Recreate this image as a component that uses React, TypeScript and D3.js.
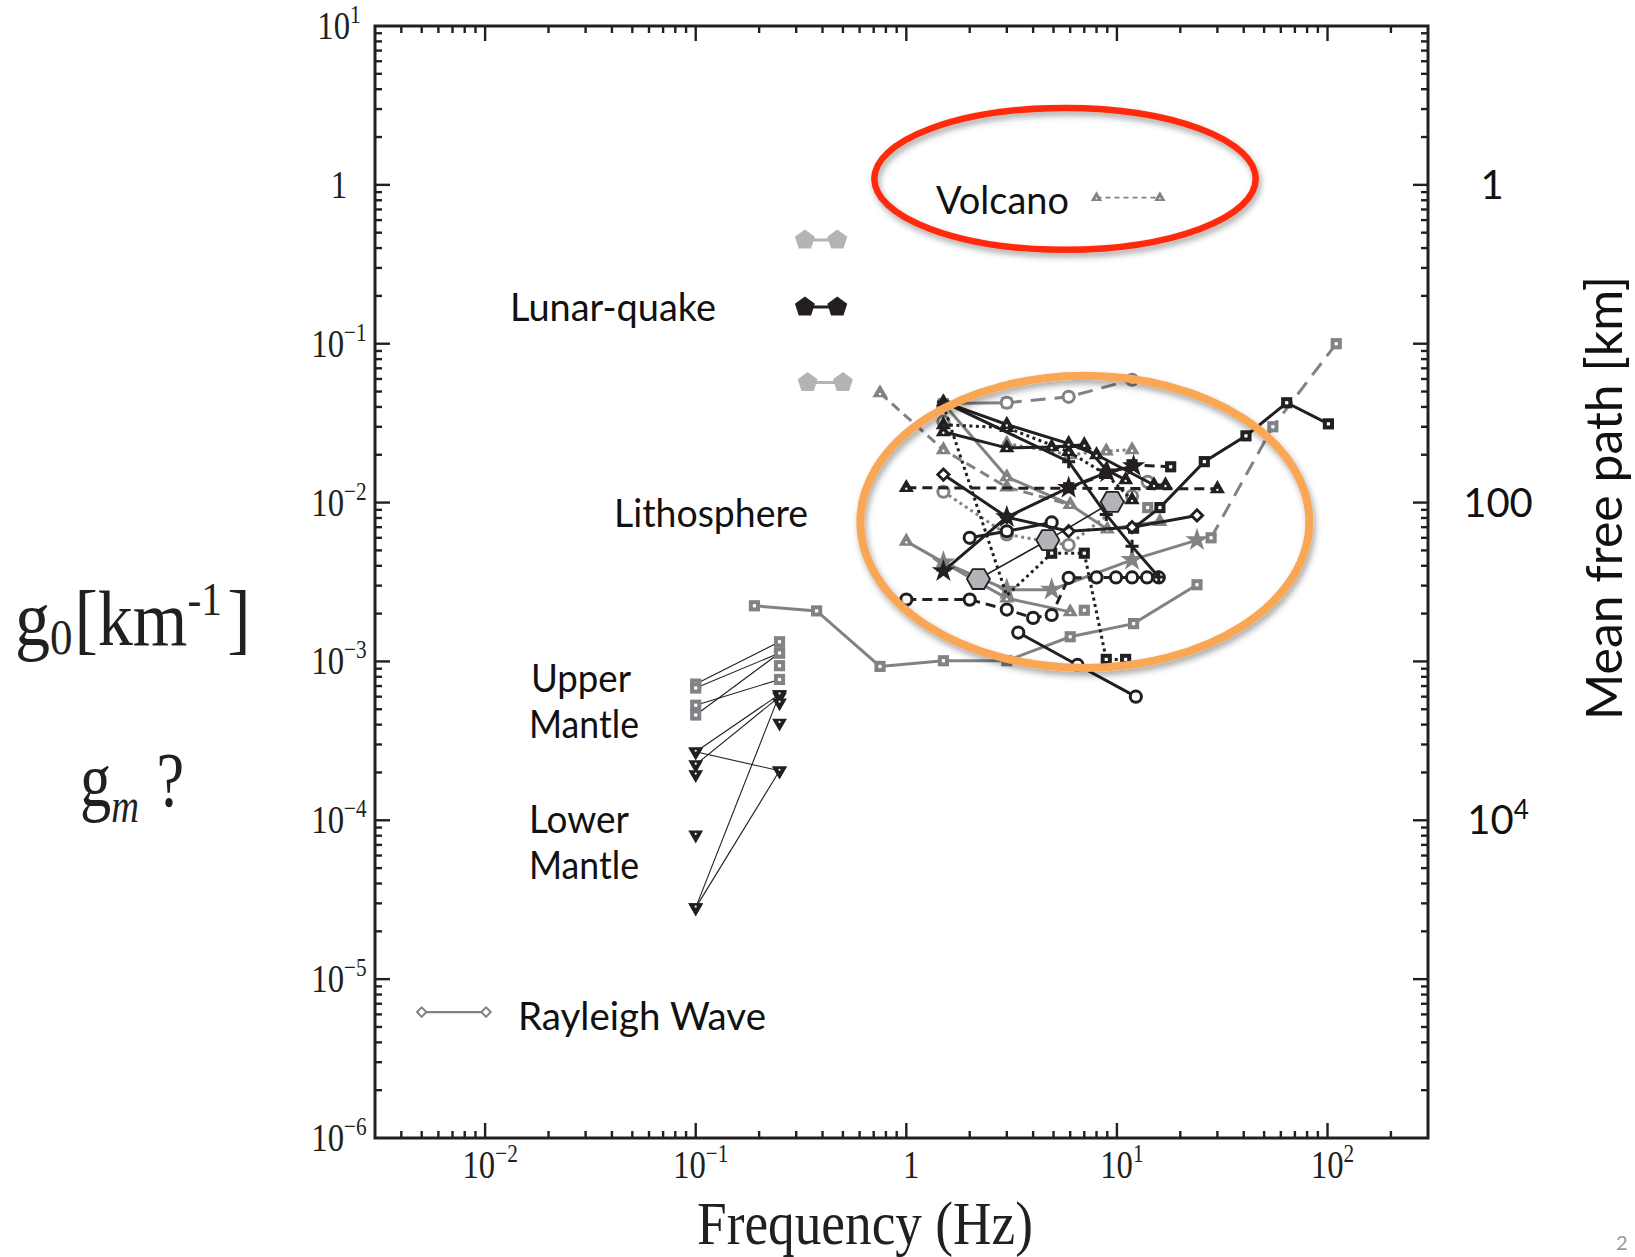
import React, { useEffect, useRef } from 'react';
import * as d3 from 'd3';

const W = 1635;
const H = 1257;
const PLOT = { left: 375, right: 1428, top: 26, bottom: 1138 };

const BLACK = '#231f20';
const GREY = '#808285';
const LIGHT = '#b3b4b8';

// axes
const freqDomain = [0.003, 300];
const g0Domain = [1e-6, 10];
const xLabelPowers = [-2, -1, 0, 1, 2];
const yLabelPowers = [1, 0, -1, -2, -3, -4, -5, -6];
const meanFreePathKm = [1, 100, 1e4];

// volcano
const volcanoFreq = [8, 16];
const volcanoG0 = [0.83, 0.83];

// lunar quakes (three pairs)
const lunarFreq = [0.33, 0.47];
const lunarLowFreq = [0.34, 0.5];
const lunarG0 = [0.45, 0.17, 0.057];

// upper mantle: 0.1 Hz -> 0.25 Hz
const mantleFreq = [0.1, 0.25];
const upperMantleFrom = [7.2e-4, 6.8e-4, 5.3e-4, 4.6e-4];
const upperMantleTo = [1.33e-3, 1.13e-3, 7.7e-4, 1.13e-3];
const upperMantleLone = [9.4e-4];

// lower mantle
const lowerMantleFrom = [2.7e-4, 2.7e-4, 2.24e-4, 2.82e-5, 2.82e-5];
const lowerMantleTo = [6.2e-4, 2.05e-4, 6.0e-4, 6.2e-4, 2.05e-4];
const lowerMantleLoneLow = [1.94e-4, 8.1e-5];
const lowerMantleLoneHigh = [5.5e-4, 4.1e-4];

// rayleigh wave legend sample
const rayleighFreq = [0.005, 0.0101];
const rayleighG0 = [6.2e-6, 6.2e-6];

// lithosphere
const greyLongFreq = [0.19, 0.375, 0.75, 1.5, 3, 6, 12, 24];
const greyLongG0 = [2.24e-3, 2.08e-3, 9.3e-4, 1.01e-3, 1.01e-3, 1.43e-3, 1.73e-3, 3.04e-3];
const greyDashSqFreq = [28, 55, 110];
const greyDashSqG0 = [6.0e-3, 0.03, 0.1];
const blackSqFreq = [12, 16, 26, 41, 64, 101];
const blackSqG0 = [6.9e-3, 9.3e-3, 0.0181, 0.0263, 0.0425, 0.0313];
const greyStarFreq = [1.5, 3, 4.9, 11.8, 24];
const greyStarG0 = [4.2e-3, 2.83e-3, 2.83e-3, 4.36e-3, 5.8e-3];
const blackDashCircFreq = [1, 2, 3, 4, 4.9, 5.9, 8, 9.9, 11.8, 13.9, 15.8];
const blackDashCircG0 = [2.45e-3, 2.45e-3, 2.12e-3, 1.88e-3, 1.96e-3, 3.36e-3, 3.38e-3, 3.38e-3, 3.38e-3, 3.38e-3, 3.38e-3];
const blackCircFreq = [3.4, 6.5, 12.3];
const blackCircG0 = [1.52e-3, 9.5e-4, 6.0e-4];
const blackDotLineFreq = [1.5, 3, 4.9];
const blackDotLineG0 = [0.041, 2.6e-3, 4.8e-3];
const blackDotSqFreq = [4.9, 7, 8.9, 11];
const blackDotSqG0 = [4.8e-3, 4.8e-3, 1.03e-3, 1.03e-3];
const blackTri1Freq = [1.5, 3, 4.9, 7, 8.9, 11];
const blackTri1G0 = [0.0279, 0.0221, 0.0224, 0.0231, 0.0161, 0.0139];
const blackTri2Freq = [1.5, 3, 5.9, 8, 15, 17];
const blackTri2G0 = [0.043, 0.031, 0.0235, 0.02, 0.0129, 0.0129];
const blackDotTriFreq = [1.5, 3, 5.9, 8.9, 11.8];
const blackDotTriG0 = [0.0309, 0.0296, 0.0209, 0.015, 0.0104];
const blackDashTriFreq = [1, 30];
const blackDashTriG0 = [0.0124, 0.0122];
const greyTriFreq = [1.5, 3, 6, 9, 16];
const greyTriG0 = [0.042, 0.0145, 0.0097, 0.0068, 0.0076];
const greyDashTriFreq = [0.75, 1.5, 3, 6];
const greyDashTriG0 = [0.049, 0.0215, 0.0125, 0.0097];
const greyDotTriFreq = [3, 6, 8.9, 11.8];
const greyDotTriG0 = [0.0235, 0.02, 0.0211, 0.0215];
const greyTri2Freq = [1, 1.5, 3, 6];
const greyTri2G0 = [5.7e-3, 4.2e-3, 2.5e-3, 2.05e-3];
const blackStarFreq = [1.5, 3, 5.9, 9, 12];
const blackStarG0 = [3.7e-3, 8.1e-3, 0.0124, 0.0155, 0.017];
const blackPlusFreq = [1.5, 5.9, 8.9, 11.8, 15.8];
const blackPlusG0 = [0.043, 0.0181, 8.4e-3, 5.3e-3, 3.4e-3];
const blackDiaFreq = [1.5, 3, 5.9, 11.8, 24];
const blackDiaG0 = [0.015, 8.1e-3, 6.6e-3, 7.0e-3, 8.3e-3];
const hexFreq = [2.2, 4.7, 9.5];
const hexG0 = [3.3e-3, 5.8e-3, 0.0101];
const greyDotCircFreq = [1.5, 3, 5.9, 11.8, 14];
const greyDotCircG0 = [0.0117, 6.3e-3, 5.4e-3, 0.011, 0.0135];
const greyTopFreq = [1.5, 3];
const greyTopG0 = [0.042, 0.0425];
const greyDashCircFreq = [3, 5.9, 11.8];
const greyDashCircG0 = [0.0425, 0.0463, 0.0593];
const greyLoneCircFreq = [1.5];
const greyLoneCircG0 = [0.0323];
const blackCircUpFreq = [2, 3, 4.9];
const blackCircUpG0 = [6.0e-3, 6.6e-3, 7.5e-3];
const blackDashSqFreq = [5.9, 11.8, 18];
const blackDashSqG0 = [0.0124, 0.0173, 0.0168];
const greyLoneSqFreq = [7, 14];
const greyLoneSqG0 = [2.1e-3, 9.3e-3];

// annotation ellipses, bounding boxes in data space
const redEllipseFreq = [0.705, 45.6];
const redEllipseG0 = [3.05, 0.39];
const orangeEllipseFreq = [0.605, 82];
const orangeEllipseG0 = [0.0628, 9.1e-4];

type Series = { freq: number[]; g0: number[]; marker: string; color: string; dash: string };

const lithosphere: Series[] = [
  { freq: greyLongFreq, g0: greyLongG0, marker: 'sq', color: GREY, dash: 'solid' },
  { freq: greyDashSqFreq, g0: greyDashSqG0, marker: 'sq', color: GREY, dash: 'longdash' },
  { freq: greyTopFreq, g0: greyTopG0, marker: 'sq', color: GREY, dash: 'solid' },
  { freq: greyDashCircFreq, g0: greyDashCircG0, marker: 'circ', color: GREY, dash: 'longdash' },
  { freq: greyLoneCircFreq, g0: greyLoneCircG0, marker: 'circ', color: GREY, dash: 'none' },
  { freq: greyDashTriFreq, g0: greyDashTriG0, marker: 'tri', color: GREY, dash: 'dash' },
  { freq: greyTriFreq, g0: greyTriG0, marker: 'tri', color: GREY, dash: 'solid' },
  { freq: greyDotTriFreq, g0: greyDotTriG0, marker: 'tri', color: GREY, dash: 'dot' },
  { freq: greyTri2Freq, g0: greyTri2G0, marker: 'tri', color: GREY, dash: 'solid' },
  { freq: greyStarFreq, g0: greyStarG0, marker: 'star', color: GREY, dash: 'solid' },
  { freq: greyDotCircFreq, g0: greyDotCircG0, marker: 'circ', color: GREY, dash: 'dot' },
  { freq: greyLoneSqFreq, g0: greyLoneSqG0, marker: 'sq', color: GREY, dash: 'none' },
  { freq: blackDashCircFreq, g0: blackDashCircG0, marker: 'circ', color: BLACK, dash: 'dash' },
  { freq: blackCircFreq, g0: blackCircG0, marker: 'circ', color: BLACK, dash: 'solid' },
  { freq: blackCircUpFreq, g0: blackCircUpG0, marker: 'circ', color: BLACK, dash: 'solid' },
  { freq: blackDotLineFreq, g0: blackDotLineG0, marker: 'none', color: BLACK, dash: 'dot' },
  { freq: blackDotSqFreq, g0: blackDotSqG0, marker: 'sq', color: BLACK, dash: 'dot' },
  { freq: blackDashSqFreq, g0: blackDashSqG0, marker: 'sq', color: BLACK, dash: 'dash' },
  { freq: blackSqFreq, g0: blackSqG0, marker: 'sq', color: BLACK, dash: 'solid' },
  { freq: blackDashTriFreq, g0: blackDashTriG0, marker: 'tri', color: BLACK, dash: 'dash' },
  { freq: blackDotTriFreq, g0: blackDotTriG0, marker: 'tri', color: BLACK, dash: 'dot' },
  { freq: blackTri1Freq, g0: blackTri1G0, marker: 'tri', color: BLACK, dash: 'solid' },
  { freq: blackTri2Freq, g0: blackTri2G0, marker: 'tri', color: BLACK, dash: 'solid' },
  { freq: blackPlusFreq, g0: blackPlusG0, marker: 'plus', color: BLACK, dash: 'solid' },
  { freq: blackDiaFreq, g0: blackDiaG0, marker: 'dia', color: BLACK, dash: 'solid' },
  { freq: blackStarFreq, g0: blackStarG0, marker: 'star', color: BLACK, dash: 'solid' },
  { freq: hexFreq, g0: hexG0, marker: 'hex', color: BLACK, dash: 'thin' },
];

const dashes: Record<string, string | null> = {
  solid: null,
  thin: null,
  dash: '10,6',
  longdash: '15,9',
  dot: '3,3.5',
};

const poly = (n: number, r: number, startDeg: number) => {
  const pts = d3.range(n).map(i => {
    const a = ((startDeg + (360 / n) * i) * Math.PI) / 180;
    return [r * Math.cos(a), r * Math.sin(a)];
  });
  return 'M' + pts.map(p => p.join(',')).join('L') + 'Z';
};

const SERIF = '"Liberation Serif", "Times New Roman", serif';
const SANS = 'Lato, "Open Sans", "Liberation Sans", sans-serif';

export default function App() {
  const svgRef = useRef<SVGSVGElement>(null);

  useEffect(() => {
    if (!svgRef.current) return;
    const svg = d3.select(svgRef.current);
    svg.selectAll('*').remove();

    const x = d3.scaleLog().domain(freqDomain).range([PLOT.left, PLOT.right]);
    const y = d3.scaleLog().domain(g0Domain).range([PLOT.bottom, PLOT.top]);

    const defs = svg.append('defs');
    const f = defs.append('filter').attr('id', 'shadow').attr('x', '-20%').attr('y', '-20%').attr('width', '140%').attr('height', '150%');
    f.append('feDropShadow').attr('dx', 2).attr('dy', 4).attr('stdDeviation', 3).attr('flood-color', '#000').attr('flood-opacity', 0.35);

    const drawMarker = (g: any, kind: string, color: string, px: number, py: number, scale = 1) => {
      const m = g.append('g').attr('transform', `translate(${px},${py}) scale(${scale})`);
      switch (kind) {
        case 'tri':
          m.append('path').attr('d', d3.symbol(d3.symbolTriangle, 100)()).attr('fill', color);
          m.append('circle').attr('r', 1.2).attr('cy', 1).attr('fill', '#fff');
          break;
        case 'itri':
          m.append('path').attr('d', d3.symbol(d3.symbolTriangle, 95)()).attr('transform', 'rotate(180)').attr('fill', color);
          m.append('circle').attr('r', 1.1).attr('cy', -1).attr('fill', '#fff');
          break;
        case 'sq':
          m.append('path').attr('d', d3.symbol(d3.symbolSquare, 125)()).attr('fill', color);
          m.append('rect').attr('x', -1.6).attr('y', -1.6).attr('width', 3.2).attr('height', 3.2).attr('fill', '#fff');
          break;
        case 'circ':
          m.append('circle').attr('r', 5.6).attr('fill', '#fff').attr('stroke', color).attr('stroke-width', 3);
          break;
        case 'star':
          m.append('path').attr('d', d3.symbol(d3.symbolStar, 170)()).attr('fill', color);
          break;
        case 'dia':
          m.append('path').attr('d', d3.symbol(d3.symbolSquare, 64)()).attr('transform', 'rotate(45)')
            .attr('fill', '#fff').attr('stroke', color).attr('stroke-width', 2.8);
          break;
        case 'plus':
          m.append('path').attr('d', 'M-6.5,0H6.5M0,-6.5V6.5').attr('stroke', color).attr('stroke-width', 3);
          break;
        case 'hex':
          m.append('path').attr('d', poly(6, 11.5, 0)).attr('fill', LIGHT).attr('stroke', BLACK).attr('stroke-width', 1.8);
          break;
        case 'pent':
          m.append('path').attr('d', poly(5, 10.5, -90)).attr('fill', color);
          break;
        default:
          break;
      }
    };

    const line = d3.line<[number, number]>().x(d => x(d[0])).y(d => y(d[1]));

    // --- lithosphere series
    const lg = svg.append('g');
    lithosphere.forEach(s => {
      const pts = s.freq.map((fq, i) => [fq, s.g0[i]] as [number, number]);
      if (s.dash !== 'none') {
        lg.append('path')
          .attr('d', line(pts))
          .attr('fill', 'none')
          .attr('stroke', s.color)
          .attr('stroke-width', s.dash === 'thin' ? 1.6 : 3)
          .attr('stroke-dasharray', dashes[s.dash]);
      }
      pts.forEach(p => drawMarker(lg, s.marker, s.color, x(p[0]), y(p[1])));
    });

    // --- volcano
    svg.append('path')
      .attr('d', line(volcanoFreq.map((fq, i) => [fq, volcanoG0[i]] as [number, number])))
      .attr('fill', 'none').attr('stroke', GREY).attr('stroke-width', 1.8).attr('stroke-dasharray', '5,4');
    volcanoFreq.forEach((fq, i) => drawMarker(svg, 'tri', GREY, x(fq), y(volcanoG0[i]), 0.75));

    // --- lunar quakes
    lunarG0.forEach((gv, i) => {
      const fr = i === 2 ? lunarLowFreq : lunarFreq;
      const c = i === 1 ? BLACK : LIGHT;
      svg.append('line').attr('x1', x(fr[0])).attr('x2', x(fr[1])).attr('y1', y(gv)).attr('y2', y(gv))
        .attr('stroke', c).attr('stroke-width', 3);
      fr.forEach(fq => drawMarker(svg, 'pent', c, x(fq), y(gv)));
    });

    // --- mantle
    const mg = svg.append('g');
    upperMantleFrom.forEach((gv, i) => {
      mg.append('line').attr('x1', x(mantleFreq[0])).attr('y1', y(gv)).attr('x2', x(mantleFreq[1])).attr('y2', y(upperMantleTo[i]))
        .attr('stroke', BLACK).attr('stroke-width', 1.1);
    });
    lowerMantleFrom.forEach((gv, i) => {
      mg.append('line').attr('x1', x(mantleFreq[0])).attr('y1', y(gv)).attr('x2', x(mantleFreq[1])).attr('y2', y(lowerMantleTo[i]))
        .attr('stroke', BLACK).attr('stroke-width', 1.1);
    });
    upperMantleFrom.forEach(gv => drawMarker(mg, 'sq', GREY, x(mantleFreq[0]), y(gv)));
    [...upperMantleTo, ...upperMantleLone].forEach(gv => drawMarker(mg, 'sq', GREY, x(mantleFreq[1]), y(gv)));
    [...lowerMantleFrom, ...lowerMantleLoneLow].forEach(gv => drawMarker(mg, 'itri', BLACK, x(mantleFreq[0]), y(gv)));
    [...lowerMantleTo, ...lowerMantleLoneHigh].forEach(gv => drawMarker(mg, 'itri', BLACK, x(mantleFreq[1]), y(gv)));

    // --- rayleigh legend sample
    svg.append('path')
      .attr('d', line(rayleighFreq.map((fq, i) => [fq, rayleighG0[i]] as [number, number])))
      .attr('stroke', GREY).attr('stroke-width', 2.4).attr('fill', 'none');
    rayleighFreq.forEach((fq, i) => {
      svg.append('path').attr('d', d3.symbol(d3.symbolSquare, 44)())
        .attr('transform', `translate(${x(fq)},${y(rayleighG0[i])}) rotate(45)`)
        .attr('fill', '#fff').attr('stroke', GREY).attr('stroke-width', 2);
    });

    // --- ellipses
    const ellipse = (fr: number[], gr: number[], color: string, sw: number) => {
      const x0 = x(fr[0]), x1 = x(fr[1]), y0 = y(gr[0]), y1 = y(gr[1]);
      svg.append('ellipse')
        .attr('cx', (x0 + x1) / 2).attr('cy', (y0 + y1) / 2)
        .attr('rx', Math.abs(x1 - x0) / 2).attr('ry', Math.abs(y1 - y0) / 2)
        .attr('fill', 'none').attr('stroke', color).attr('stroke-width', sw)
        .attr('filter', 'url(#shadow)');
    };
    ellipse(redEllipseFreq, redEllipseG0, '#ff2a08', 6.5);
    ellipse(orangeEllipseFreq, orangeEllipseG0, '#f9a655', 8);

    // --- frame and ticks
    const ax = svg.append('g').attr('stroke', BLACK);
    const isMajor = (v: number) => Math.abs(Math.log10(v) - Math.round(Math.log10(v))) < 1e-6;
    x.ticks().filter(v => x(v) > PLOT.left + 2 && x(v) < PLOT.right - 2).forEach(v => {
      const len = isMajor(v) ? 15 : 7;
      const px = x(v);
      ax.append('line').attr('x1', px).attr('x2', px).attr('y1', PLOT.bottom).attr('y2', PLOT.bottom - len).attr('stroke-width', 2.4);
      ax.append('line').attr('x1', px).attr('x2', px).attr('y1', PLOT.top).attr('y2', PLOT.top + len).attr('stroke-width', 2.4);
    });
    y.ticks().filter(v => y(v) < PLOT.bottom - 2 && y(v) > PLOT.top + 2).forEach(v => {
      const len = isMajor(v) ? 15 : 7;
      const py = y(v);
      ax.append('line').attr('y1', py).attr('y2', py).attr('x1', PLOT.left).attr('x2', PLOT.left + len).attr('stroke-width', 2.4);
      ax.append('line').attr('y1', py).attr('y2', py).attr('x1', PLOT.right).attr('x2', PLOT.right - len).attr('stroke-width', 2.4);
    });
    svg.append('rect')
      .attr('x', PLOT.left).attr('y', PLOT.top)
      .attr('width', PLOT.right - PLOT.left).attr('height', PLOT.bottom - PLOT.top)
      .attr('fill', 'none').attr('stroke', BLACK).attr('stroke-width', 3);

    const powLabel = (cx: number, base: number, k: number) => {
      const t = svg.append('g').attr('transform', `translate(${cx},${base}) scale(0.82,1)`)
        .append('text').attr('text-anchor', 'middle').attr('font-family', SERIF).attr('font-size', 40).attr('fill', BLACK);
      if (k === 0) {
        t.text('1');
      } else {
        t.append('tspan').text('10');
        t.append('tspan').attr('font-size', 26).attr('dy', -16).text(k < 0 ? `\u2212${-k}` : `${k}`);
      }
    };
    xLabelPowers.forEach(k => powLabel(x(Math.pow(10, k)) + 5, PLOT.bottom + 40, k));
    yLabelPowers.forEach(k => powLabel(339, y(Math.pow(10, k)) + 13, k));

    // --- axis titles
    svg.append('g').attr('transform', `translate(865,1244) scale(0.86,1)`)
      .append('text').attr('text-anchor', 'middle').attr('font-family', SERIF).attr('font-size', 62).attr('fill', BLACK)
      .text('Frequency (Hz)');

    const g0t = svg.append('g').attr('transform', 'translate(15,645) scale(0.9,1)')
      .append('text').attr('font-family', SERIF).attr('font-size', 78).attr('fill', BLACK);
    g0t.append('tspan').text('g');
    g0t.append('tspan').attr('font-size', 50).attr('dy', 9).text('0');
    g0t.append('tspan').attr('dy', -9).attr('dx', 2).text('[km');
    g0t.append('tspan').attr('font-size', 46).attr('dy', -30).text('-1');
    g0t.append('tspan').attr('dy', 30).attr('dx', 6).text(']');

    const gmt = svg.append('g').attr('transform', 'translate(80,806) scale(0.8,1)')
      .append('text').attr('font-family', SERIF).attr('font-size', 78).attr('fill', BLACK);
    gmt.append('tspan').text('g');
    gmt.append('tspan').attr('font-size', 48).attr('font-style', 'italic').attr('dy', 16).text('m');
    gmt.append('tspan').attr('dy', -16).attr('dx', 22).text('?');

    svg.append('text')
      .attr('transform', 'translate(1622,498) rotate(-90)')
      .attr('text-anchor', 'middle').attr('font-family', SANS).attr('font-size', 51).attr('fill', '#111')
      .attr('textLength', 444).attr('lengthAdjust', 'spacingAndGlyphs')
      .text('Mean free path [km]');

    meanFreePathKm.forEach(km => {
      const t = svg.append('text').attr('x', km === 1 ? 1492 : 1498).attr('y', y(1 / km) + 14)
        .attr('text-anchor', 'middle').attr('font-family', SANS).attr('font-size', 40).attr('fill', '#111');
      if (km >= 1e4) {
        t.append('tspan').text('10');
        t.append('tspan').attr('font-size', 26).attr('dy', -15).text(`${Math.round(Math.log10(km))}`);
      } else {
        t.text(`${km}`);
      }
    });

    // --- group labels
    const labels: [string, number, number, number][] = [
      ['Volcano', 936, 214, 133],
      ['Lunar-quake', 510, 321, 206],
      ['Lithosphere', 614, 527, 194],
      ['Upper', 531, 692, 100],
      ['Mantle', 529, 738, 110],
      ['Lower', 529, 833, 100],
      ['Mantle', 529, 879, 110],
      ['Rayleigh Wave', 518, 1030, 248],
    ];
    labels.forEach(([txt, lx, ly, len]) => {
      svg.append('text').attr('x', lx).attr('y', ly)
        .attr('font-family', SANS).attr('font-size', 39).attr('fill', '#111')
        .attr('textLength', len).attr('lengthAdjust', 'spacingAndGlyphs')
        .text(txt);
    });

    // slide number at the corner
    svg.append('text').attr('x', 1616).attr('y', 1250).attr('font-family', SANS)
      .attr('font-size', 20).attr('fill', '#999').text('2');
  }, []);

  return (
    <div style={{ position: 'absolute', left: 0, top: 0 }}>
      <svg ref={svgRef} width={W} height={H} style={{ display: 'block', background: '#fff' }} />
    </div>
  );
}
